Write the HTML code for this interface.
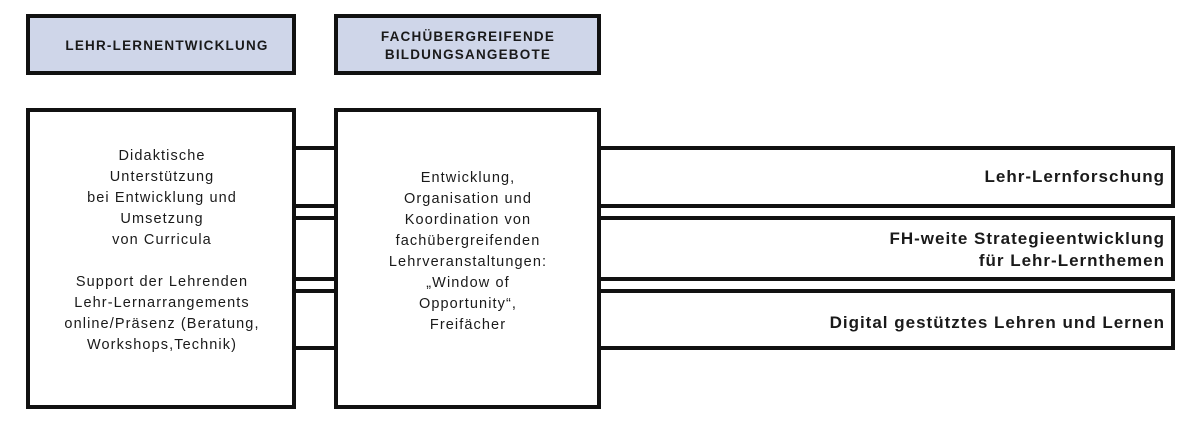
<!DOCTYPE html>
<html><head><meta charset="utf-8"><style>
html,body{margin:0;padding:0;background:#fff;}
svg{display:block;}
text{font-family:"Liberation Sans",sans-serif;fill:#1a1a1a;}
</style></head><body>
<svg width="1200" height="425" viewBox="0 0 1200 425" xmlns="http://www.w3.org/2000/svg">
<g stroke="#111" stroke-width="4" fill="none">
<rect x="28" y="16" width="266" height="57" fill="#cfd6e9"/>
<rect x="336" y="16" width="263" height="57" fill="#cfd6e9"/>
<rect x="28" y="110" width="266" height="297" fill="#fff"/>
<rect x="336" y="110" width="263" height="297" fill="#fff"/>
<line x1="294" y1="148" x2="336" y2="148"/>
<line x1="294" y1="206" x2="336" y2="206"/>
<line x1="294" y1="218" x2="336" y2="218"/>
<line x1="294" y1="279" x2="336" y2="279"/>
<line x1="294" y1="291" x2="336" y2="291"/>
<line x1="294" y1="348" x2="336" y2="348"/>
<polyline points="599,148 1173,148 1173,206 599,206"/>
<polyline points="599,218 1173,218 1173,279 599,279"/>
<polyline points="599,291 1173,291 1173,348 599,348"/>
</g>
<g font-size="13.5" font-weight="bold" text-anchor="middle" letter-spacing="1.2">
<text x="167" y="50">LEHR-LERNENTWICKLUNG</text>
<text x="468" y="41">FACHÜBERGREIFENDE</text>
<text x="468" y="59">BILDUNGSANGEBOTE</text>
</g>
<g font-size="14.5" text-anchor="middle" letter-spacing="1.1">
<text x="162" y="160">Didaktische</text>
<text x="162" y="181">Unterstützung</text>
<text x="162" y="202">bei Entwicklung und</text>
<text x="162" y="223">Umsetzung</text>
<text x="162" y="244">von Curricula</text>
<text x="162" y="286">Support der Lehrenden</text>
<text x="162" y="307">Lehr-Lernarrangements</text>
<text x="162" y="328">online/Präsenz (Beratung,</text>
<text x="162" y="349">Workshops,Technik)</text>
<text x="468" y="182">Entwicklung,</text>
<text x="468" y="203">Organisation und</text>
<text x="468" y="224">Koordination von</text>
<text x="468" y="245">fachübergreifenden</text>
<text x="468" y="266">Lehrveranstaltungen:</text>
<text x="468" y="287">„Window of</text>
<text x="468" y="308">Opportunity“,</text>
<text x="468" y="329">Freifächer</text>
</g>
<g font-size="17" font-weight="bold" text-anchor="end" letter-spacing="1">
<text x="1165" y="182">Lehr-Lernforschung</text>
<text x="1165" y="244">FH-weite Strategieentwicklung</text>
<text x="1165" y="266">für Lehr-Lernthemen</text>
<text x="1165" y="328">Digital gestütztes Lehren und Lernen</text>
</g>
</svg>
</body></html>
